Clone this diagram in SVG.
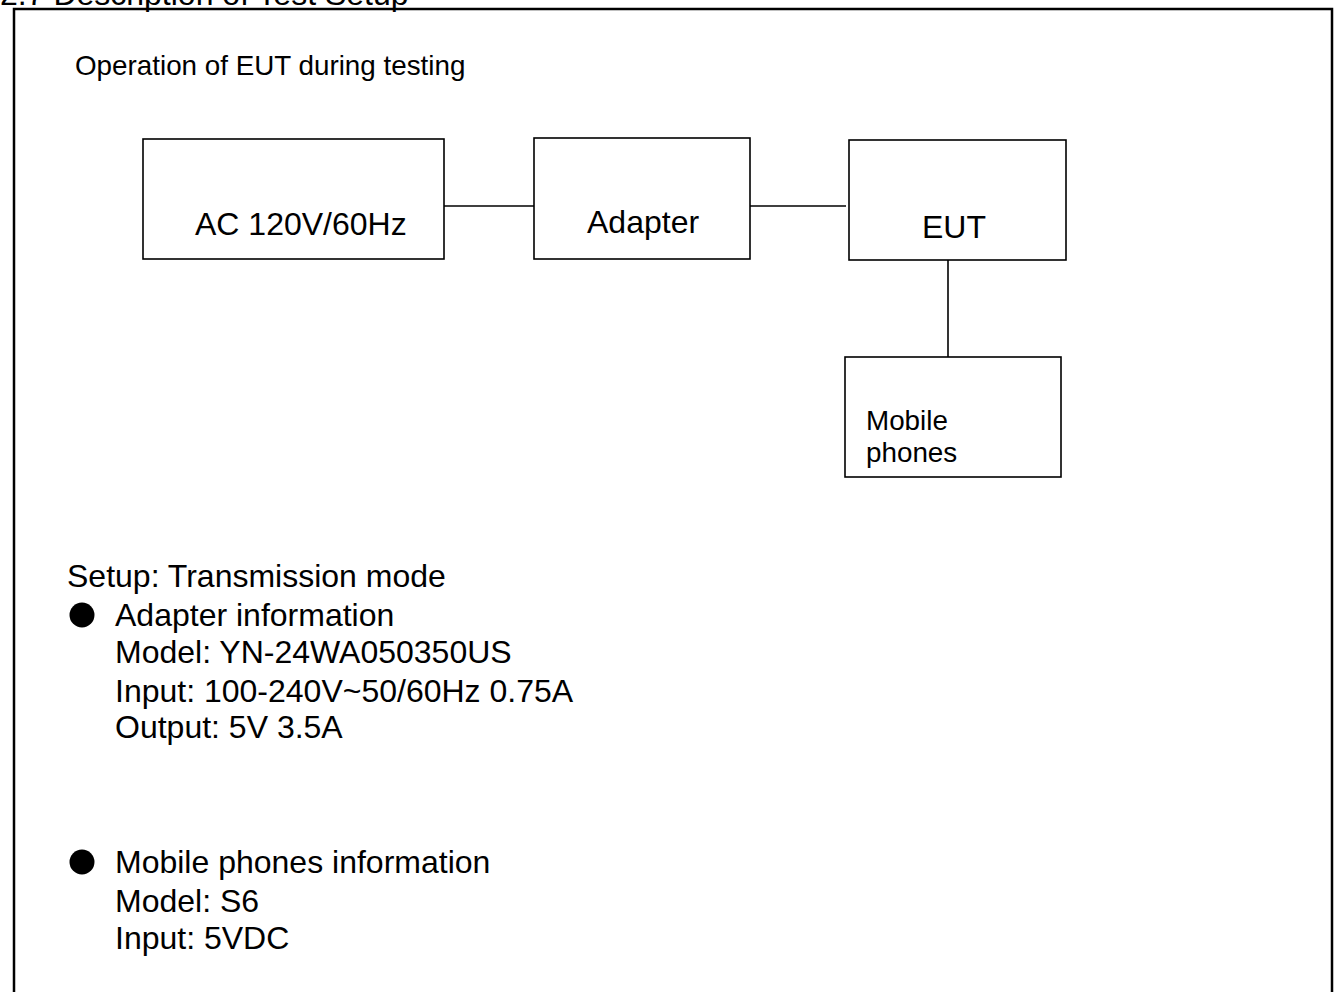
<svg xmlns="http://www.w3.org/2000/svg" width="1335" height="992" viewBox="0 0 1335 992">
<style>
text{font-family:"Liberation Sans",Arial,sans-serif;fill:#000}
.box{fill:#fff;stroke:#000;stroke-width:1.6}
.conn line{stroke:#000;stroke-width:1.6}
.big{font-size:32px}
.mid{font-size:27.8px}
.body{font-size:32px}
</style>
<rect width="1335" height="992" fill="#fff"/>
<text x="0" y="5" class="body" font-size="32.5">2.7 Description of Test Setup</text>
<rect x="14" y="9" width="1318" height="1000" fill="none" stroke="#000" stroke-width="2.5"/>
<text x="75" y="75" class="mid">Operation of EUT during testing</text>
<g class="conn">
<line x1="442" y1="206" x2="534" y2="206"/>
<line x1="750" y1="206" x2="846" y2="206"/>
<line x1="948" y1="260" x2="948" y2="357"/>
</g>
<g id="ac"><rect class="box" x="143" y="139" width="301" height="120"/><text x="195" y="235" class="big">AC 120V/60Hz</text></g>
<g id="adapter"><rect class="box" x="534" y="138" width="216" height="121"/><text x="587" y="233" class="big">Adapter</text></g>
<g id="eut"><rect class="box" x="849" y="140" width="217" height="120"/><text x="922" y="238" class="big">EUT</text></g>
<g id="mobile"><rect class="box" x="845" y="357" width="216" height="120"/><text x="866" y="430" class="mid">Mobile</text><text x="866" y="462" class="mid">phones</text></g>
<g id="info">
<text x="67" y="587" class="body">Setup: Transmission mode</text>
<circle cx="82" cy="615" r="12.5"/>
<text x="115" y="626" class="body">Adapter information</text>
<text x="115" y="663" class="body">Model: YN-24WA050350US</text>
<text x="115" y="702" class="body">Input: 100-240V~50/60Hz 0.75A</text>
<text x="115" y="738" class="body">Output: 5V 3.5A</text>
<circle cx="82" cy="862" r="12.5"/>
<text x="115" y="873" class="body">Mobile phones information</text>
<text x="115" y="912" class="body">Model: S6</text>
<text x="115" y="949" class="body">Input: 5VDC</text>
</g>
</svg>
